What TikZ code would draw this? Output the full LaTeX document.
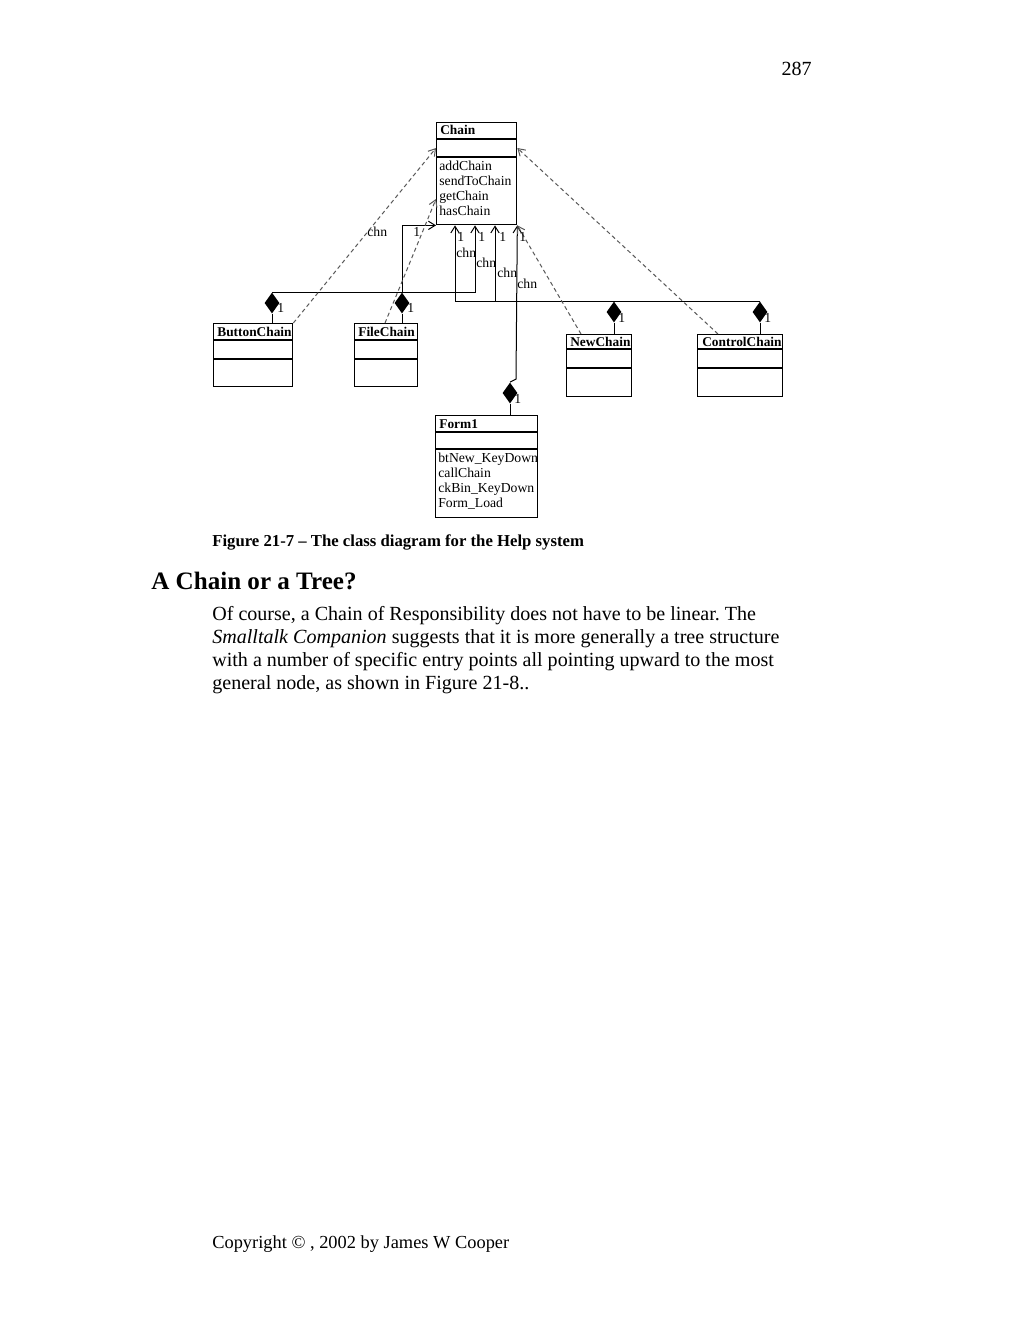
\documentclass[tikz,border=0pt]{standalone}
\usepackage{fontspec}
\setmainfont{Liberation Serif}
\usetikzlibrary{arrows.meta,positioning,calc,shapes.geometric}
\newcommand\unitpx{0.5982pt}
\frenchspacing
\tikzset{
  cls/.style={draw,line width=0.8pt,anchor=north west,inner sep=0pt},
  sep/.style={line width=0.8pt},
  ttl/.style={anchor=base west,inner sep=0pt,font=\fontsize{8}{9}\selectfont\bfseries},
  op/.style={anchor=base west,inner sep=0pt,font=\fontsize{8.2}{9}\selectfont},
  lbl/.style={anchor=base west,inner sep=0pt,font=\fontsize{8.2}{9}\selectfont},
  dia/.style={diamond,fill,inner sep=0pt,minimum width=15*\unitpx,minimum height=21*\unitpx},
  comp/.style={line width=0.6pt,-{Straight Barb[length=4pt,width=5pt]}},
  dep/.style={line width=0.6pt,gray!70!black,dash pattern=on 2.4pt off 1.8pt,
    -{Straight Barb[length=4pt,width=5pt]}},
  body/.style={anchor=base west,inner sep=0pt,font=\fontsize{12}{13.8}\selectfont},
}

\begin{document}
\begin{tikzpicture}[x=\unitpx,y=-\unitpx]
  \fill[white] (0,0) rectangle (1023,1324);
  \useasboundingbox (0,0) rectangle (1023,1324);
  \node[body,anchor=base east] (pg) at (812,75) {287};

  % class boxes
  \node[cls,minimum width=80*\unitpx,minimum height=102*\unitpx] (chain) at (436,122) {};
  \draw[sep] (chain.north west) ++(0,17) -- ++(80,0) (chain.north west) ++(0,35) -- ++(80,0);
  \node[ttl] (chainT) at (440,134) {Chain};
  \foreach \o [count=\i] in {addChain,sendToChain,getChain,hasChain}
    \node[op] (chainO\i) at (439,{155+15*\i}) {\o};

  \node[cls,minimum width=79*\unitpx,minimum height=63*\unitpx] (bc) at (213,323) {};
  \draw[sep] (bc.north west) ++(0,17) -- ++(79,0) (bc.north west) ++(0,36) -- ++(79,0);
  \node[ttl] (bcT) at (217,336) {ButtonChain};

  \node[cls,minimum width=63*\unitpx,minimum height=63*\unitpx] (fc) at (354,323) {};
  \draw[sep] (fc.north west) ++(0,17) -- ++(63,0) (fc.north west) ++(0,36) -- ++(63,0);
  \node[ttl] (fcT) at (358,336) {FileChain};

  \node[cls,minimum width=65*\unitpx,minimum height=62*\unitpx] (nc) at (566,334) {};
  \draw[sep] (nc.north west) ++(0,15) -- ++(65,0) (nc.north west) ++(0,34) -- ++(65,0);
  \node[ttl] (ncT) at (570,346) {NewChain};

  \node[cls,minimum width=85*\unitpx,minimum height=62*\unitpx] (cc) at (697,334) {};
  \draw[sep] (cc.north west) ++(0,15) -- ++(85,0) (cc.north west) ++(0,34) -- ++(85,0);
  \node[ttl] (ccT) at (702,346) {ControlChain};

  \node[cls,minimum width=102*\unitpx,minimum height=102*\unitpx] (form) at (435,415) {};
  \draw[sep] (form.north west) ++(0,17) -- ++(102,0) (form.north west) ++(0,34) -- ++(102,0);
  \node[ttl] (formT) at (439,428) {Form1};
  \foreach \o [count=\i] in {btNew\_KeyDown,callChain,ckBin\_KeyDown,Form\_Load}
    \node[op] (formO\i) at (438,{447+15*\i}) {\o};

  % aggregation diamonds
  \node[dia] (dB) at (272,303) {};
  \node[dia] (dF) at (402,303) {};
  \node[dia] (dN) at (614,312) {};
  \node[dia] (dC) at (760,312) {};
  \node[dia] (dX) at (510,393) {};
  \draw[line width=0.6pt] (dB.south) -- (dB.south |- bc.north)
    (dF.south) -- (dF.south |- fc.north) (dN.south) -- (dN.south |- nc.north)
    (dC.south) -- (dC.south |- cc.north) (dX.south) -- (dX.south |- form.north);
  \node[lbl] (mB) at ($(dB.south)+(5,-1)$) {1};
  \node[lbl] (mF) at ($(dF.south)+(5,-1)$) {1};
  \node[lbl] (mN) at ($(dN.south)+(4,0)$) {1};
  \node[lbl] (mC) at ($(dC.south)+(4,0)$) {1};
  \node[lbl] (mX) at ($(dX.south)+(4,0)$) {1};

  % chn links
  \draw[comp] (dB.north) -| ($(chain.south west)+(39,0)$);
  \draw[comp] (dF.north) |- (chain.south west);
  \draw[comp] (dN.north) -| ($(chain.south west)+(59,0)$);
  \draw[comp] (dC.north) -| ($(chain.south west)+(19,0)$);
  \draw[comp] (dX.north) -- ++(6,-3) -- (chain.south east);

  % dependencies
  \draw[dep] (bc.north east) -- ($(chain.north west)+(0,26)$);
  \draw[dep] ($(fc.north west)+(31,0)$) -- ($(chain.north west)+(0,77)$);
  \draw[dep] ($(nc.north west)+(15,0)$) -- (chain.south east);
  \draw[dep] ($(cc.north west)+(21,0)$) -- ($(chain.north east)+(0,26)$);

  \node[lbl] (n0) at (367,236) {chn};
  \node[lbl] (n1) at (413,236) {1};
  \node[lbl] (a1) at (457,241) {1};
  \node[lbl] (a2) at (478,241) {1};
  \node[lbl] (a3) at (499,241) {1};
  \node[lbl] (a4) at (519,241) {1};
  \node[lbl] (c1) at (456,257) {chn};
  \node[lbl] (c2) at (476,267) {chn};
  \node[lbl] (c3) at (497,277) {chn};
  \node[lbl] (c4) at (517,288) {chn};

  % text of the page
  \node[body,font=\fontsize{10}{12}\selectfont\bfseries] (fig) at (212,546)
    {Figure 21-7 -- The class diagram for the Help system};
  \node[body,font=\fontsize{15}{17}\selectfont\bfseries] (hd) at (151,589) {A Chain or a Tree?};
  \node[body] (p1) at (212,620) {Of course, a Chain of Responsibility does not have to be linear. The};
  \node[body] (p2) at (212,643) {\textit{Smalltalk Companion} suggests that it is more generally a tree structure};
  \node[body] (p3) at (212,666) {with a number of specific entry points all pointing upward to the most};
  \node[body] (p4) at (212,689) {general node, as shown in Figure 21-8..};
  \node[body,font=\fontsize{11}{13}\selectfont] (cp) at (212,1248) {Copyright © , 2002 by James W Cooper};
\end{tikzpicture}
\end{document}
